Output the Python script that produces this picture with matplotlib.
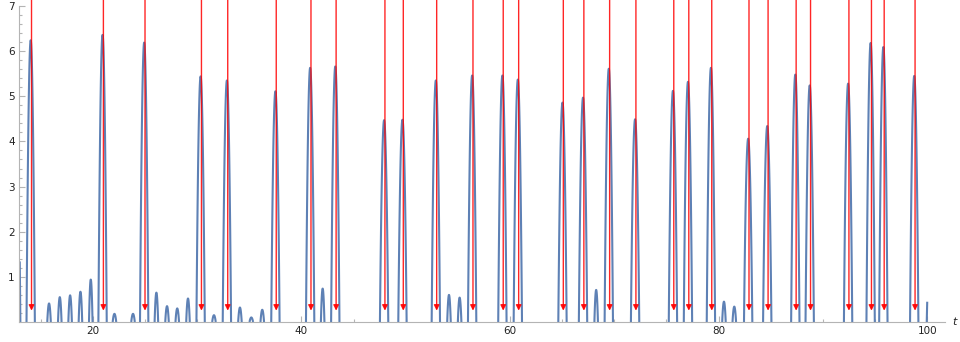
import matplotlib.pyplot as plt
import numpy as np

# imaginary parts of the zeta zeros (red arrows)
zeros = [14.13, 21.02, 25.01, 30.42, 32.94, 37.59, 40.92, 43.33, 48.01, 49.77,
         52.97, 56.45, 59.35, 60.83, 65.11, 67.08, 69.55, 72.07, 75.70, 77.14,
         79.34, 82.91, 84.74, 87.43, 88.81, 92.49, 94.65, 95.87, 98.83]
# height of the blue spike at each zero
peak_heights = [6.24, 6.36, 6.19, 5.44, 5.35, 5.11, 5.63, 5.66, 4.47, 4.48,
                5.35, 5.46, 5.46, 5.37, 4.86, 4.97, 5.61, 4.49, 5.12, 5.32,
                5.63, 4.06, 4.34, 5.48, 5.24, 5.28, 6.18, 6.09, 5.45]
# small lobes in between
small_t = [15.81, 16.84, 17.83, 18.82, 19.81, 22.08, 23.86, 26.10, 27.12, 28.10,
           29.13, 31.62, 34.11, 35.20, 36.25, 42.04, 54.15, 55.17, 68.26, 80.51,
           81.50]
small_h = [0.41, 0.55, 0.59, 0.67, 0.94, 0.18, 0.18, 0.65, 0.35, 0.30,
           0.52, 0.15, 0.32, 0.10, 0.27, 0.74, 0.60, 0.54, 0.71, 0.45,
           0.34]
# lobes cut by the ends of the plotted interval [13, 100]
edge_t = [12.68, 100.25]
edge_h = [4.78, 1.6]

t_min, t_max = 13.0, 100.0
blue = '#5e81b5'


def lobe(ax, c, h, w):
    t = np.linspace(c - w, c + w, 80)
    t = t[(t >= t_min) & (t <= t_max)]
    y = h * (1 - ((t - c) / w) ** 2)
    ax.plot(t, y, color=blue, lw=1.5, solid_capstyle='butt', zorder=2)


fig = plt.figure(figsize=(9.6, 3.42), dpi=100)
ax = fig.add_axes([19 / 960, 20 / 342, 926 / 960, 316 / 342])

for c, h in zip(zeros, peak_heights):
    lobe(ax, c - 0.08, h, 0.40)
for c, h in zip(small_t, small_h):
    lobe(ax, c, h, 0.17)
lobe(ax, edge_t[0], edge_h[0], 0.38)
lobe(ax, edge_t[1], edge_h[1], 0.30)

for z in zeros:
    ax.annotate('', xy=(z, 0.25), xytext=(z, 8),
                arrowprops=dict(arrowstyle='-|>', color='red', lw=1.0,
                                mutation_scale=8, shrinkA=0, shrinkB=0,
                                alpha=0.85),
                annotation_clip=False, zorder=3)

ax.set_xlim(12.93, 101.7)
ax.set_ylim(0, 7)
ax.set_clip_on(True)

for s in ['top', 'right']:
    ax.spines[s].set_visible(False)
for s in ['left', 'bottom']:
    ax.spines[s].set_color('#b4b4b4')
    ax.spines[s].set_linewidth(0.8)

ax.set_xticks([20, 40, 60, 80, 100])
ax.set_xticks(np.arange(15, 101, 5), minor=True)
ax.set_yticks([1, 2, 3, 4, 5, 6, 7])
ax.set_yticks(np.arange(0.2, 7.01, 0.2), minor=True)
ax.tick_params(which='both', direction='in', color='#b4b4b4', width=0.8,
               labelsize=7.5, labelcolor='#222222')
ax.tick_params(which='major', length=4)
ax.tick_params(which='minor', length=2.2)
ax.tick_params(axis='y', pad=3)
ax.tick_params(axis='x', pad=3)

ax.text(1.008, 0.0, 't', transform=ax.transAxes, fontsize=8, style='italic',
        color='#222222', va='center', ha='left')

fig.savefig('out.png', dpi=100)
